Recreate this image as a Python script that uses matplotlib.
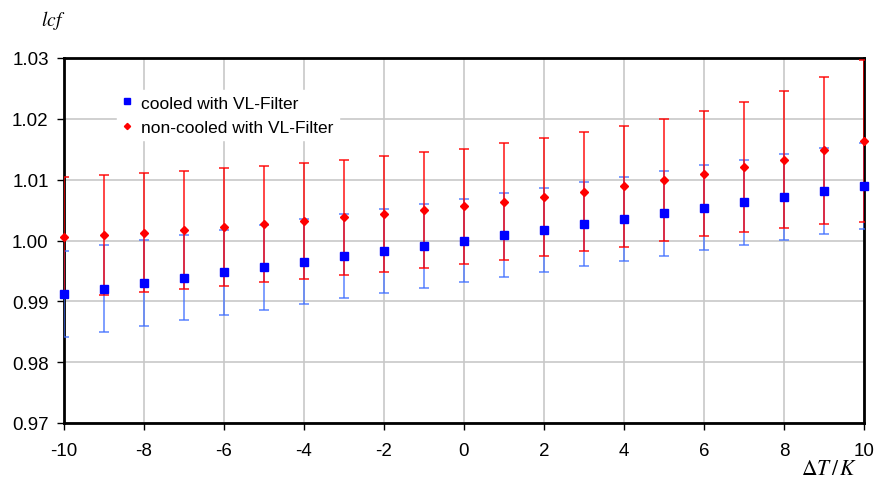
import numpy as np
import matplotlib.pyplot as plt
from matplotlib.ticker import FormatStrFormatter

plt.rcParams['font.family'] = ['Liberation Sans', 'DejaVu Sans']
plt.rcParams['mathtext.fontset'] = 'stix'
plt.rcParams['axes.unicode_minus'] = False

# data
dT = [-10, -9, -8, -7, -6, -5, -4, -3, -2, -1, 0, 1, 2, 3, 4, 5, 6, 7, 8, 9, 10]
cooled = [0.9912, 0.9921, 0.9930, 0.9939, 0.9948, 0.9956, 0.9965, 0.9974, 0.9983, 0.9991,
          1.0000, 1.0009, 1.0018, 1.0027, 1.0036, 1.0045, 1.0054, 1.0063, 1.0072, 1.0081, 1.0090]
cooled_err = [0.0071, 0.0071, 0.0071, 0.0070, 0.0070, 0.0070, 0.0070, 0.0069, 0.0069, 0.0069,
              0.0069, 0.0069, 0.0069, 0.0069, 0.0069, 0.0070, 0.0070, 0.0070, 0.0071, 0.0071, 0.0071]
noncooled = [1.0005, 1.0009, 1.0013, 1.0018, 1.0022, 1.0027, 1.0032, 1.0038, 1.0044, 1.0050,
             1.0056, 1.0064, 1.0071, 1.0080, 1.0089, 1.0099, 1.0110, 1.0121, 1.0133, 1.0148, 1.0163]
noncooled_err = [0.0100, 0.0098, 0.0098, 0.0097, 0.0097, 0.0096, 0.0095, 0.0095, 0.0095, 0.0095,
                 0.0095, 0.0096, 0.0097, 0.0098, 0.0099, 0.0100, 0.0103, 0.0107, 0.0113, 0.0121, 0.0133]

fig = plt.figure(figsize=(8.78, 4.81), dpi=100)
ax = fig.add_axes([64/878, 1-424/481, 800/878, 365/481])

# error bars first, markers on top
ax.errorbar(dT, cooled, yerr=cooled_err, fmt='none', ecolor='#3f6fff', elinewidth=1.1,
            capsize=3.5, capthick=1.1, alpha=0.85, zorder=3)
ax.errorbar(dT, noncooled, yerr=noncooled_err, fmt='none', ecolor='#ff0000', elinewidth=1.2,
            capsize=3.5, capthick=1.2, alpha=0.85, zorder=4)
ax.plot(dT, cooled, 's', color='#0000ff', markersize=6, label='cooled with VL-Filter',
        zorder=5, clip_on=False)
ax.plot(dT, noncooled, 'D', color='#ff0000', markersize=4.2, label='non-cooled with VL-Filter',
        zorder=6, clip_on=False)

ax.set_xlim(-10, 10)
ax.set_ylim(0.97, 1.03)
ax.set_xticks(range(-10, 11, 2))
ax.set_yticks(np.arange(0.97, 1.0301, 0.01))
ax.yaxis.set_major_formatter(FormatStrFormatter('%.2f'))
ax.tick_params(labelsize=13.5, length=5, width=1, color='black', direction='out', pad=6)
ax.tick_params(axis='x', pad=9)
ax.grid(True, color='#c8c8c8', linewidth=1.2)
ax.set_axisbelow(True)
for s in ax.spines.values():
    s.set_linewidth(2)
    s.set_color('black')

leg = ax.legend(loc='center left', bbox_to_anchor=(0.055, 0.843), frameon=True, fontsize=12.5,
                handlelength=0.6, handletextpad=0.5, borderpad=0.3, labelspacing=0.55,
                markerscale=0.75)
leg.get_frame().set_edgecolor('white')
leg.get_frame().set_facecolor('white')
leg.get_frame().set_alpha(1)

fig.text(53/878, 1-20/481, r'$lcf$', fontsize=14, ha='center', va='center')
fig.text(829/878, 1-470/481, r'$\Delta T\,/\,K$', fontsize=15.5, ha='center', va='center')

fig.savefig('out.png', dpi=100)
